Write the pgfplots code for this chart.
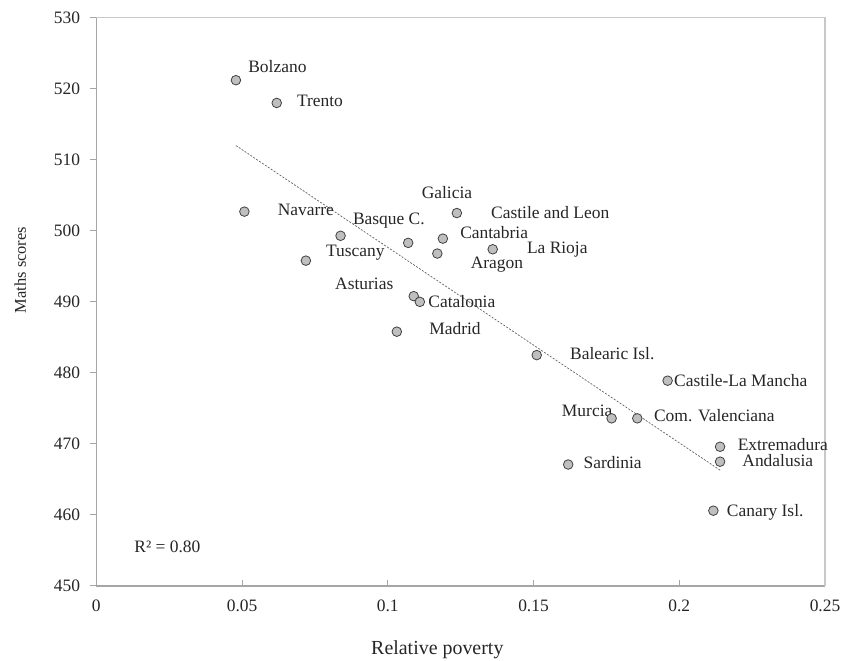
\documentclass[border=0pt]{standalone}
\usepackage{fontspec}
\setmainfont{Liberation Serif}
\usepackage{pgfplots}
\pgfplotsset{compat=1.18}
\definecolor{axisdark}{HTML}{A6A6A6}
\definecolor{axislight}{HTML}{C8C8C8}
\definecolor{txt}{HTML}{262626}
\definecolor{mfill}{HTML}{BFBFBF}
\definecolor{medge}{HTML}{404040}
\definecolor{trend}{HTML}{606060}
\newcommand{\lab}[3]{\node[anchor=west, inner sep=0pt, text height=0.66em, text depth=0pt, text=txt, font=\fontsize{17.5}{20}\selectfont] at (axis cs:#1,#2) {#3};}
\begin{document}
\begin{tikzpicture}
\begin{axis}[
  name=ax,
  scale only axis,
  width=728.7bp, height=568.3bp,
  xmin=0, xmax=0.25, ymin=450, ymax=530,
  axis line style={draw=none},
  xtick={0,0.05,0.1,0.15,0.2,0.25},
  xticklabels={0,0.05,0.1,0.15,0.2,0.25},
  ytick={450,460,470,480,490,500,510,520,530},
  yticklabels={450,460,470,480,490,500,510,520,530},
  tick pos=left,
  tick align=outside,
  major tick length=6bp,
  x tick style={yshift=6bp},
  tick style={axisdark, line width=1bp},
  xticklabel style={anchor=north, inner sep=0pt, yshift=-8bp},
  yticklabel style={anchor=east, inner sep=0pt, xshift=-10bp},
  tick label style={text=txt, font=\fontsize{17.5}{20}\selectfont},
  xlabel={Relative poverty},
  ylabel={Maths scores},
  xlabel style={at={(rel axis cs:0.468,0)}, anchor=center, yshift=-64bp, text=txt, font=\fontsize{20}{23}\selectfont},
  ylabel style={at={(rel axis cs:-0.1043,0.556)}, anchor=center, text=txt, font=\fontsize{16.5}{20}\selectfont},
  clip=false,
]
\draw[axisdark, line width=1.3bp] (rel axis cs:0,1) -- (rel axis cs:0,0) -- (rel axis cs:1,0);
\draw[axislight, line width=1.3bp] (rel axis cs:0,1) -- (rel axis cs:1,1) -- (rel axis cs:1,0);
\addplot[no marks, trend, dash pattern=on 2bp off 1.5bp, line width=0.7bp] coordinates {(0.0479,512.0) (0.2142,466.25)};
\addplot[only marks, mark=*, mark size=4.8bp, mark options={fill=mfill, draw=medge, line width=0.8bp}] table {
x y
0.0479 521.2
0.0619 518.0
0.0508 502.7
0.0838 499.3
0.0719 495.8
0.1070 498.3
0.1237 502.5
0.1189 498.9
0.1170 496.8
0.1360 497.4
0.1089 490.8
0.1110 490.0
0.1031 485.8
0.1511 482.5
0.1960 478.9
0.1768 473.6
0.1856 473.6
0.2140 469.6
0.2140 467.5
0.1619 467.1
0.2117 460.6
};
\lab{0.0521}{522.7}{Bolzano}
\lab{0.0688}{518.0}{Trento}
\lab{0.0622}{502.6}{Navarre}
\lab{0.0880}{501.4}{Basque C.}
\lab{0.1116}{505.05}{Galicia}
\lab{0.1354}{502.2}{Castile and Leon}
\lab{0.1248}{499.4}{Cantabria}
\lab{0.1477}{497.3}{La Rioja}
\lab{0.1284}{495.2}{Aragon}
\lab{0.0788}{496.8}{Tuscany}
\lab{0.0819}{492.2}{Asturias}
\lab{0.1139}{489.7}{Catalonia}
\lab{0.1142}{485.8}{Madrid}
\lab{0.1625}{482.4}{Balearic Isl.}
\lab{0.1982}{478.5}{Castile-La Mancha}
\lab{0.1597}{474.3}{Murcia}
\lab{0.1913}{473.6}{Com. Valenciana}
\lab{0.2200}{469.6}{Extremadura}
\lab{0.2216}{467.3}{Andalusia}
\lab{0.1671}{467.05}{Sardinia}
\lab{0.2163}{460.3}{Canary Isl.}
\lab{0.0130}{455.2}{R² = 0.80}
\end{axis}
\pgfresetboundingbox
\path[use as bounding box] ([xshift=-96.3bp,yshift=-75bp]ax.south west) rectangle ([xshift=18bp,yshift=17.7bp]ax.north east);
\end{tikzpicture}
\end{document}
